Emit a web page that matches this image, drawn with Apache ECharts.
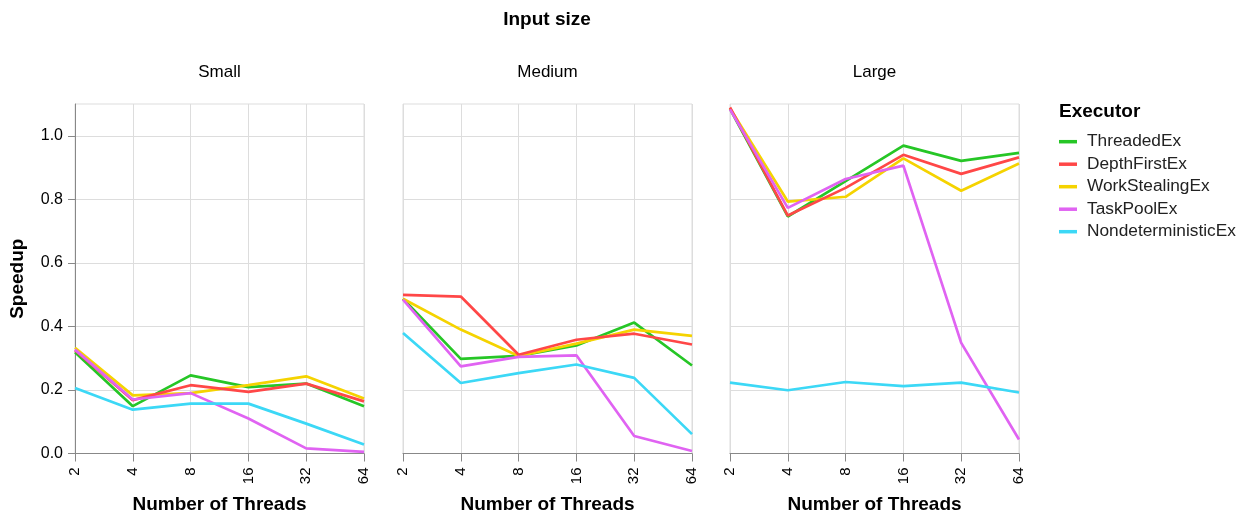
<!DOCTYPE html>
<html>
<head>
<meta charset="utf-8">
<script src="https://cdn.jsdelivr.net/npm/echarts@6/dist/echarts.min.js"></script>
<style>
  html, body { margin: 0; padding: 0; background: #fff; }
  #chart { width: 1257px; height: 516px; }
</style>
</head>
<body>
<div id="chart"></div>
<script>
// ---- data ----
const threads = ['2', '4', '8', '16', '32', '64'];
const sizes = ['Small', 'Medium', 'Large'];
const executors = ['ThreadedEx', 'DepthFirstEx', 'WorkStealingEx', 'TaskPoolEx', 'NondeterministicEx'];
const yTicks = [0, 0.2, 0.4, 0.6, 0.8, 1.0];

// Speedup per executor, per input size (threads 2..64)
const threadedSmall  = [0.319, 0.149, 0.246, 0.209, 0.220, 0.149];
const threadedMedium = [0.487, 0.298, 0.307, 0.340, 0.412, 0.277];
const threadedLarge  = [1.085, 0.746, 0.857, 0.969, 0.921, 0.946];

const depthFirstSmall  = [0.325, 0.168, 0.215, 0.194, 0.220, 0.164];
const depthFirstMedium = [0.499, 0.494, 0.311, 0.358, 0.377, 0.343];
const depthFirstLarge  = [1.089, 0.749, 0.836, 0.940, 0.880, 0.932];

const workStealingSmall  = [0.333, 0.183, 0.190, 0.215, 0.243, 0.173];
const workStealingMedium = [0.487, 0.390, 0.307, 0.346, 0.390, 0.370];
const workStealingLarge  = [1.087, 0.793, 0.808, 0.929, 0.827, 0.913];

const taskPoolSmall  = [0.327, 0.170, 0.190, 0.110, 0.016, 0.005];
const taskPoolMedium = [0.484, 0.274, 0.304, 0.309, 0.055, 0.008];
const taskPoolLarge  = [1.083, 0.773, 0.864, 0.906, 0.348, 0.044];

const nondetSmall  = [0.206, 0.138, 0.157, 0.157, 0.094, 0.028];
const nondetMedium = [0.379, 0.222, 0.253, 0.280, 0.238, 0.061];
const nondetLarge  = [0.223, 0.199, 0.225, 0.212, 0.223, 0.192];

// ---- styling ----
const FONT = "'Liberation Sans', Arial, Helvetica, sans-serif";
const colors = {
  ThreadedEx: '#26c626',
  DepthFirstEx: '#ff4747',
  WorkStealingEx: '#f5d300',
  TaskPoolEx: '#e063f2',
  NondeterministicEx: '#3cd8f6'
};
const dataByExec = {
  ThreadedEx: [threadedSmall, threadedMedium, threadedLarge],
  DepthFirstEx: [depthFirstSmall, depthFirstMedium, depthFirstLarge],
  WorkStealingEx: [workStealingSmall, workStealingMedium, workStealingLarge],
  TaskPoolEx: [taskPoolSmall, taskPoolMedium, taskPoolLarge],
  NondeterministicEx: [nondetSmall, nondetMedium, nondetLarge]
};
const drawOrder = ['ThreadedEx', 'WorkStealingEx', 'DepthFirstEx', 'TaskPoolEx', 'NondeterministicEx'];

const gridLefts = [75, 403, 730];
const gridWidth = 289;
const gridTop = 104;
const gridHeight = 349.5;

const grids = gridLefts.map(l => ({
  left: l, top: gridTop, width: gridWidth, height: gridHeight,
  show: true, borderColor: '#ddd', borderWidth: 1, backgroundColor: 'transparent'
}));

const xAxes = sizes.map((s, i) => ({
  type: 'category', gridIndex: i, data: threads, boundaryGap: false,
  axisLine: { show: true, lineStyle: { color: '#888', width: 1 } },
  axisTick: { show: true, length: 8, interval: 0, lineStyle: { color: '#888' } },
  axisLabel: { interval: 0, rotate: 90, margin: 14, fontSize: 15, color: '#000', fontFamily: FONT },
  splitLine: { show: true, interval: 0, lineStyle: { color: '#ddd', width: 1 } }
}));

const yAxes = sizes.map((s, i) => ({
  type: 'value', gridIndex: i, min: 0, max: 1.1, interval: 0.2,
  axisLine: { show: i === 0, lineStyle: { color: '#888', width: 1 } },
  axisTick: { show: i === 0, length: 7, lineStyle: { color: '#888' }, customValues: yTicks },
  axisLabel: {
    show: i === 0, margin: 12, fontSize: 16, color: '#000', fontFamily: FONT,
    customValues: yTicks, formatter: v => v.toFixed(1)
  },
  splitLine: { show: true, lineStyle: { color: '#ddd', width: 1 } }
}));

const series = [];
drawOrder.forEach(name => {
  sizes.forEach((s, i) => {
    series.push({
      name: name, type: 'line', xAxisIndex: i, yAxisIndex: i,
      data: dataByExec[name][i],
      symbol: 'none', color: colors[name],
      lineStyle: { width: 2.7, color: colors[name] },
      itemStyle: { color: colors[name] },
      emphasis: { disabled: true }
    });
  });
});

const panelCenters = gridLefts.map(l => l + gridWidth / 2);
const graphics = [
  { type: 'text', x: (gridLefts[0] + gridLefts[2] + gridWidth) / 2, y: 19.5,
    style: { text: 'Input size', font: 'bold 19px ' + FONT, fill: '#000', align: 'center', verticalAlign: 'middle' } },
  { type: 'text', x: 18, y: gridTop + gridHeight / 2, rotation: Math.PI / 2,
    style: { text: 'Speedup', font: 'bold 19px ' + FONT, fill: '#000', align: 'center', verticalAlign: 'middle' } },
  { type: 'text', x: 1059, y: 112,
    style: { text: 'Executor', font: 'bold 19px ' + FONT, fill: '#000', align: 'left', verticalAlign: 'middle' } }
];
sizes.forEach((s, i) => {
  graphics.push({ type: 'text', x: panelCenters[i], y: 72.7,
    style: { text: s, font: '17px ' + FONT, fill: '#000', align: 'center', verticalAlign: 'middle' } });
  graphics.push({ type: 'text', x: panelCenters[i], y: 505,
    style: { text: 'Number of Threads', font: 'bold 19px ' + FONT, fill: '#000', align: 'center', verticalAlign: 'middle' } });
});

const chart = echarts.init(document.getElementById('chart'), null, { renderer: 'canvas' });
chart.setOption({
  animation: false,
  backgroundColor: '#fff',
  textStyle: { fontFamily: FONT },
  grid: grids,
  xAxis: xAxes,
  yAxis: yAxes,
  legend: {
    data: executors, orient: 'vertical', left: 1059, top: 132.7, padding: 0,
    icon: 'rect', itemWidth: 18, itemHeight: 3.5, itemGap: 4.5,
    selectedMode: false,
    textStyle: { fontSize: 17.3, lineHeight: 18, color: '#222', fontFamily: FONT, padding: [0, 0, 0, 5] }
  },
  graphic: graphics,
  series: series
});
</script>
</body>
</html>
